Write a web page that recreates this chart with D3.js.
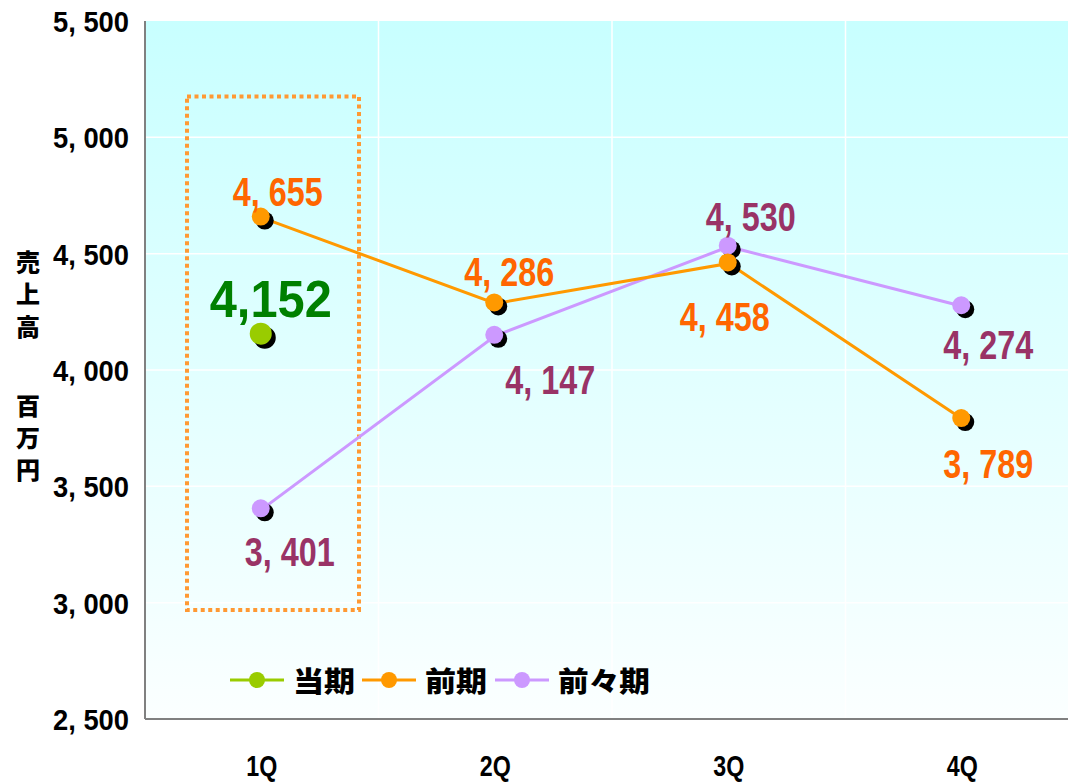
<!DOCTYPE html>
<html>
<head>
<meta charset="utf-8">
<script src="https://cdn.jsdelivr.net/npm/d3@7"></script>
<style>
  body { margin: 0; background: #fff; }
  svg { display: block; }
  .num { font-family: "Liberation Sans Narrow", "Liberation Sans", Arial, sans-serif; font-weight: bold; }
  .jp { font-family: "Noto Sans CJK JP", sans-serif; font-weight: 900; }
</style>
</head>
<body>
<script>
const categories = ['1Q', '2Q', '3Q', '4Q'];
const currentValues = [4152];              // 当期 (1Q only)
const prevValues = [4655, 4286, 4458, 3789];   // 前期
const prev2Values = [3401, 4147, 4530, 4274];  // 前々期
const yTicks = [2500, 3000, 3500, 4000, 4500, 5000, 5500];
const legendNames = ['当期', '前期', '前々期'];

// label placement relative to each point (dx, dy)
const prevLabelOffsets = [[16, -12], [14, -17], [-4, 68], [26, 59]];
const prev2LabelOffsets = [[28, 57], [55, 58], [22, -16], [26, 53]];
const currentLabelOffsets = [[9, -18]];

const width = 1068;
const height = 783;
const margin = { top: 21, left: 145, bottom: 64 };
const bandW = 233.5;

const svg = d3.select('body').append('svg')
  .attr('width', width)
  .attr('height', height);

const x = d3.scaleBand()
  .domain(categories)
  .range([margin.left, margin.left + bandW * categories.length])
  .padding(0);

const y = d3.scaleLinear()
  .domain([2500, 5500])
  .range([height - margin.bottom, margin.top]);

const cx = c => x(c) + x.bandwidth() / 2;
const fmt = v => d3.format(',')(v).replace(',', ', ');

// background gradient
const defs = svg.append('defs');
const grad = defs.append('linearGradient')
  .attr('id', 'bg')
  .attr('x1', 0).attr('y1', 0).attr('x2', 0).attr('y2', 1);
grad.append('stop').attr('offset', '0%').attr('stop-color', '#c8ffff');
grad.append('stop').attr('offset', '100%').attr('stop-color', '#fbffff');

const plotRight = x.range()[1];
svg.append('rect')
  .attr('x', margin.left)
  .attr('y', y(5500))
  .attr('width', plotRight - margin.left)
  .attr('height', y(2500) - y(5500))
  .attr('fill', 'url(#bg)');

// grid
svg.append('g')
  .selectAll('line')
  .data(yTicks.slice(1, -1))
  .join('line')
  .attr('x1', margin.left)
  .attr('x2', plotRight)
  .attr('y1', d => y(d))
  .attr('y2', d => y(d))
  .attr('stroke', '#fff')
  .attr('stroke-width', 1.5);

svg.append('g')
  .selectAll('line')
  .data(categories.slice(1))
  .join('line')
  .attr('x1', d => x(d))
  .attr('x2', d => x(d))
  .attr('y1', y(5500))
  .attr('y2', y(2500))
  .attr('stroke', '#fff')
  .attr('stroke-width', 1.5);

// axes lines
svg.append('line')
  .attr('x1', margin.left).attr('x2', margin.left)
  .attr('y1', y(5500)).attr('y2', y(2500))
  .attr('stroke', '#808080').attr('stroke-width', 2);
svg.append('line')
  .attr('x1', margin.left).attr('x2', plotRight)
  .attr('y1', y(2500)).attr('y2', y(2500))
  .attr('stroke', '#808080').attr('stroke-width', 2);

// y tick labels
svg.append('g')
  .selectAll('text')
  .data(yTicks)
  .join('text')
  .attr('class', 'num')
  .attr('x', 129)
  .attr('y', d => y(d) + 11)
  .attr('text-anchor', 'end')
  .attr('font-size', 30)
  .attr('textLength', 76)
  .attr('lengthAdjust', 'spacingAndGlyphs')
  .attr('fill', '#000')
  .text(fmt);

// x labels
svg.append('g')
  .selectAll('text')
  .data(categories)
  .join('text')
  .attr('class', 'num')
  .attr('x', d => cx(d))
  .attr('y', 776)
  .attr('text-anchor', 'middle')
  .attr('font-size', 30)
  .attr('textLength', 31)
  .attr('lengthAdjust', 'spacingAndGlyphs')
  .attr('fill', '#000')
  .text(d => d);

// y axis title (vertical)
const titleChars = [['売', 262], ['上', 294], ['高', 327], ['百', 406], ['万', 438], ['円', 470]];
svg.append('g')
  .selectAll('text')
  .data(titleChars)
  .join('text')
  .attr('class', 'jp')
  .attr('x', 28)
  .attr('y', d => d[1] + 9)
  .attr('text-anchor', 'middle')
  .attr('font-size', 24)
  .attr('fill', '#000')
  .text(d => d[0]);

// dotted highlight box around 1Q
svg.append('rect')
  .attr('x', x('1Q') + 42)
  .attr('y', y(5176))
  .attr('width', 172)
  .attr('height', y(2968) - y(5176))
  .attr('fill', 'none')
  .attr('stroke', '#ff9933')
  .attr('stroke-width', 4)
  .attr('stroke-dasharray', '4 3.5');

const series = [
  { name: '前々期', values: prev2Values, color: '#cc99ff', label: '#993366', offsets: prev2LabelOffsets },
  { name: '前期', values: prevValues, color: '#ff9900', label: '#ff6600', offsets: prevLabelOffsets },
  { name: '当期', values: currentValues, color: '#99cc00', label: '#008000', offsets: currentLabelOffsets }
];

const line = d3.line()
  .x((d, i) => cx(categories[i]))
  .y(d => y(d));

series.forEach(s => {
  const g = svg.append('g');
  if (s.values.length > 1) {
    g.append('path')
      .attr('d', line(s.values))
      .attr('fill', 'none')
      .attr('stroke', s.color)
      .attr('stroke-width', 3);
  }
  const big = s.name === '当期';
  g.selectAll('circle.shadow')
    .data(s.values)
    .join('circle')
    .attr('class', 'shadow')
    .attr('cx', (d, i) => cx(categories[i]) + 3)
    .attr('cy', d => y(d) + 3)
    .attr('r', big ? 11 : 9)
    .attr('fill', '#000');
  g.selectAll('circle.pt')
    .data(s.values)
    .join('circle')
    .attr('class', 'pt')
    .attr('cx', (d, i) => cx(categories[i]) - 1)
    .attr('cy', d => y(d) - 1)
    .attr('r', big ? 11 : 9)
    .attr('fill', s.color);
});

// data labels
series.forEach(s => {
  const big = s.name === '当期';
  svg.append('g')
    .selectAll('text')
    .data(s.values)
    .join('text')
    .attr('class', 'num')
    .attr('x', (d, i) => cx(categories[i]) + s.offsets[i][0])
    .attr('y', (d, i) => y(d) + s.offsets[i][1])
    .attr('text-anchor', 'middle')
    .attr('font-size', big ? 52 : 41)
    .attr('textLength', big ? 122 : 90)
    .attr('lengthAdjust', 'spacingAndGlyphs')
    .attr('fill', s.label)
    .text(d => big ? d3.format(',')(d) : fmt(d));
});

// legend
const legendItems = [
  { name: legendNames[0], color: '#99cc00', x: 230, tw: 62 },
  { name: legendNames[1], color: '#ff9900', x: 362, tw: 62 },
  { name: legendNames[2], color: '#cc99ff', x: 495, tw: 92 }
];
const lg = svg.append('g');
legendItems.forEach(d => {
  lg.append('line')
    .attr('x1', d.x).attr('x2', d.x + 54)
    .attr('y1', 680).attr('y2', 680)
    .attr('stroke', d.color).attr('stroke-width', 3);
  lg.append('circle')
    .attr('cx', d.x + 27).attr('cy', 680)
    .attr('r', 8)
    .attr('fill', d.color);
  lg.append('text')
    .attr('class', 'jp')
    .attr('x', d.x + 63)
    .attr('y', 692)
    .attr('font-size', 28)
    .attr('textLength', d.tw)
    .attr('lengthAdjust', 'spacingAndGlyphs')
    .attr('fill', '#000')
    .text(d.name);
});
</script>
</body>
</html>
